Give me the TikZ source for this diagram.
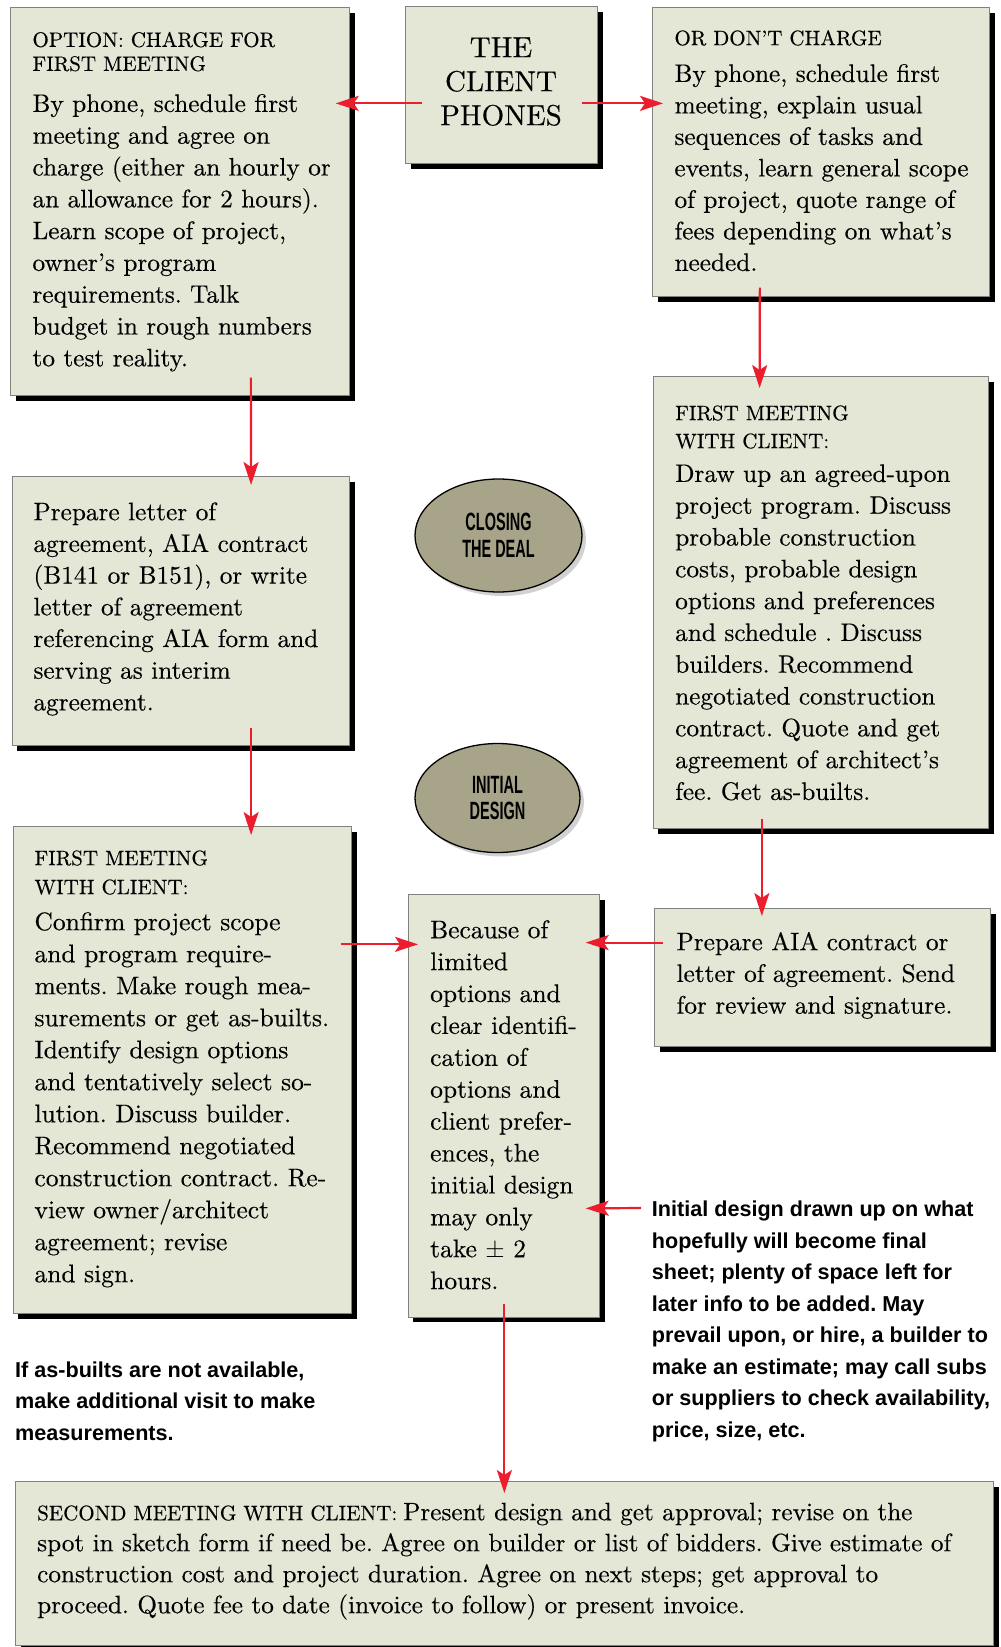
\documentclass[tikz,border=0pt]{standalone}
\usepackage{fontspec}
\newfontfamily\bodyfont{lmroman10-regular.otf}[Ligatures=TeX, FakeBold=0.3]
\newfontfamily\notefont{Liberation Sans}
\newfontfamily\ovalfont[FakeStretch=0.58]{Liberation Sans}
\usetikzlibrary{shadows,arrows.meta,shapes.geometric}
\definecolor{boxfill}{RGB}{228,230,214}
\definecolor{boxline}{RGB}{130,130,125}
\definecolor{ovalfill}{RGB}{168,164,138}
\definecolor{arrowred}{RGB}{236,30,45}
\newcommand{\mystrut}[1]{\rule{0pt}{#1}}
\begin{document}
\frenchspacing
\begin{tikzpicture}[x=1pt,y=-1pt,
  panel/.style={draw=boxline, line width=0.7pt, fill=boxfill, inner sep=0pt, anchor=north west,
    drop shadow={shadow xshift=5.5pt, shadow yshift=-5.5pt, fill=black, opacity=1}},
  oval/.style={ellipse, draw=black, line width=1.3pt, fill=ovalfill, inner sep=0pt, align=center,
    font={\ovalfont\bfseries\fontsize{25}{26.7}\selectfont},
    drop shadow={shadow xshift=4pt, shadow yshift=-4pt, fill=black, opacity=0.18}},
  body/.style={anchor=north west, inner sep=0pt, align=left, font={\bodyfont\fontsize{25.3}{31.8}\selectfont}},
  hdr/.style={anchor=north west, inner sep=0pt, align=left, font={\bodyfont\fontsize{21}{24}\selectfont}},
  note/.style={anchor=north west, inner sep=0pt, align=left, font={\notefont\bfseries\fontsize{21.6}{31.5}\selectfont}},
  arr/.style={draw=arrowred, line width=2.2pt, -{Stealth[length=23pt,width=15pt,inset=5pt]}}
]
\useasboundingbox (0,0) rectangle (1001,1647);
\fill[white] (0,0) rectangle (1001,1647);

% boxes
\node[panel, minimum width=339pt, minimum height=388pt] (b1) at (10,7) {};
\node[panel, minimum width=192pt, minimum height=157pt] (b0) at (405,6) {};
\node[panel, minimum width=337pt, minimum height=289pt] (b2) at (652,7) {};
\node[panel, minimum width=335.5pt, minimum height=452pt] (b3) at (652.5,376) {};
\node[panel, minimum width=337.5pt, minimum height=269pt] (b4) at (11.5,476) {};
\node[panel, minimum width=338.5pt, minimum height=487pt] (b5) at (12.5,826) {};
\node[panel, minimum width=191.5pt, minimum height=422.5pt] (b6) at (407.5,894) {};
\node[panel, minimum width=336pt, minimum height=138pt] (b7) at (654,908) {};
\node[panel, minimum width=978pt, minimum height=164pt] (b8) at (15,1481) {};

% ovals
\node[oval, minimum width=167pt, minimum height=113pt] (e1) at (498.5,535.5) {CLOSING\\THE DEAL};
\node[oval, minimum width=165pt, minimum height=109pt] (e2) at (497.5,798) {INITIAL\\DESIGN};

% texts
\node[anchor=north, inner sep=0pt, align=center, font={\bodyfont\fontsize{29}{34}\selectfont}] (t0) at (501,33)
  {\mystrut{24pt}THE\\CLIENT\\PHONES};

\node[hdr] (h1) at (32.3,30.7) {\mystrut{16pt}OPTION: CHARGE FOR\\FIRST MEETING};
\node[body] (x1) at (32.3,91.7) {\mystrut{20pt}By phone, schedule first\\meeting and agree on\\charge (either an hourly or\\an allowance for 2 hours).\\Learn scope of project,\\owner's program\\requirements. Talk\\budget in rough numbers\\to test reality.};

\node[hdr] (h2) at (674.3,29) {\mystrut{16pt}OR DON'T CHARGE};
\node[body, font={\bodyfont\fontsize{25.3}{31.5}\selectfont}] (x2) at (674.3,61.7) {\mystrut{20pt}By phone, schedule first\\meeting, explain usual\\sequences of tasks and\\events, learn general scope\\of project, quote range of\\fees depending on what's\\needed.};

\node[hdr, font={\bodyfont\fontsize{21}{28}\selectfont}] (h3) at (675,404) {\mystrut{16pt}FIRST MEETING\\WITH CLIENT:};
\node[body] (x3) at (675,461.7) {\mystrut{20pt}Draw up an agreed-upon\\project program. Discuss\\probable construction\\costs, probable design\\options and preferences\\and schedule . Discuss\\builders. Recommend\\negotiated construction\\contract. Quote and get\\agreement of architect's\\fee. Get as-builts.};

\node[body, font={\bodyfont\fontsize{25.3}{31.7}\selectfont}] (x4) at (33.3,500) {\mystrut{20pt}Prepare letter of\\agreement, AIA contract\\(B141 or B151), or write\\letter of agreement\\referencing AIA form and\\serving as interim\\agreement.};

\node[hdr, font={\bodyfont\fontsize{21}{29}\selectfont}] (h5) at (34.3,849) {\mystrut{16pt}FIRST MEETING\\WITH CLIENT:};
\node[body, font={\bodyfont\fontsize{25.5}{32}\selectfont}] (x5) at (34.3,910) {\mystrut{20pt}Confirm project scope\\and program require-\\ments. Make rough mea-\\surements or get as-builts.\\Identify design options\\and tentatively select so-\\lution. Discuss builder.\\Recommend negotiated\\construction contract. Re-\\view owner/architect\\agreement; revise\\and sign.};

\node[body, font={\bodyfont\fontsize{25.5}{31.9}\selectfont}] (x6) at (430,918) {\mystrut{20pt}Because of\\limited\\options and\\clear identifi-\\cation of\\options and\\client prefer-\\ences, the\\initial design\\may only\\take $\pm$ 2\\hours.};

\node[body, font={\bodyfont\fontsize{25.3}{31.7}\selectfont}] (x7) at (676.4,930) {\mystrut{20pt}Prepare AIA contract or\\letter of agreement. Send\\for review and signature.};

\node[body, font={\bodyfont\fontsize{25.2}{31}\selectfont}] (x8) at (37,1500) {\mystrut{20pt}{\fontsize{21}{24}\selectfont SECOND MEETING WITH CLIENT:}\hspace{6pt}Present design and get approval; revise on the\\spot in sketch form if need be. Agree on builder or list of bidders. Give estimate of\\construction cost and project duration. Agree on next steps; get approval to\\proceed. Quote fee to date (invoice to follow) or present invoice.};

\node[note] (n1) at (15,1360) {\mystrut{17pt}If as-builts are not available,\\make additional visit to make\\measurements.};
\node[note] (n2) at (651.7,1199.7) {\mystrut{17pt}Initial design drawn up on what\\hopefully will become final\\sheet; plenty of space left for\\later info to be added. May\\prevail upon, or hire, a builder to\\make an estimate; may call subs\\or suppliers to check availability,\\price, size, etc.};

% arrows
\draw[arr] ([xshift=17pt,yshift=-18.5pt]b0.west) -- ([xshift=-14pt,yshift=98pt]b1.east);
\draw[arr] ([xshift=-16pt,yshift=-18.5pt]b0.east) -- ([xshift=11pt,yshift=48.5pt]b2.west);
\draw[arr] ([xshift=-61pt,yshift=9pt]b2.south) -- ([xshift=-61pt,yshift=-12pt]b3.north);
\draw[arr] ([xshift=71pt,yshift=18pt]b1.south) -- ([xshift=70.5pt,yshift=-9pt]b4.north);
\draw[arr] ([xshift=70.5pt,yshift=18pt]b4.south) -- ([xshift=69pt,yshift=-9pt]b5.north);
\draw[arr] ([xshift=-11pt,yshift=125.5pt]b5.east) -- ([xshift=10.5pt,yshift=161.25pt]b6.west);
\draw[arr] ([xshift=9pt,yshift=34.75pt]b7.west) -- ([xshift=-14pt,yshift=163pt]b6.east);
\draw[arr] ([xshift=-58.75pt,yshift=10pt]b3.south) -- ([xshift=-60.5pt,yshift=-8pt]b7.north);
\draw[arr] ([xshift=-10.7pt,yshift=-8.3pt]n2.north west) -- ([xshift=-14pt,yshift=-102.75pt]b6.east);
\draw[arr] ([xshift=0.75pt,yshift=13.5pt]b6.south) -- ([yshift=-12pt]b8.north);
\end{tikzpicture}
\end{document}
